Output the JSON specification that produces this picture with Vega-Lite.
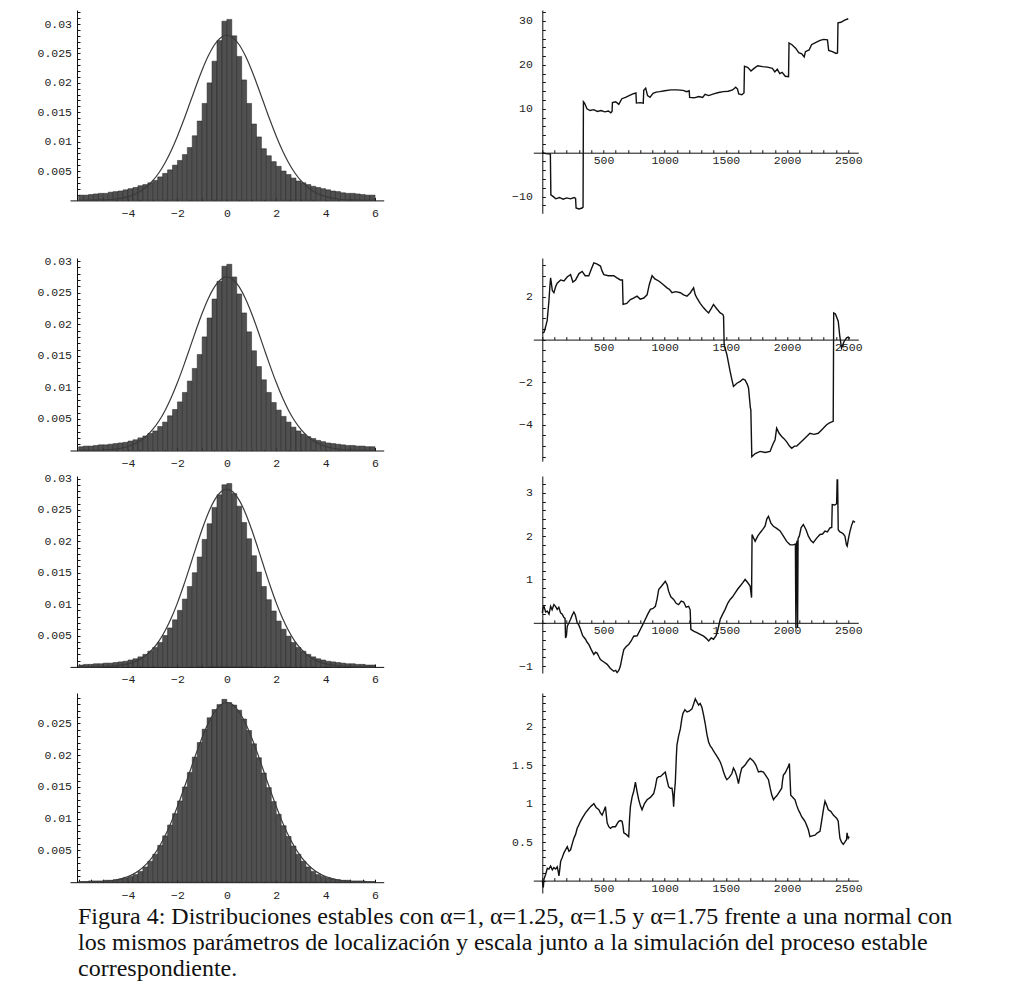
{
"$schema": "https://vega.github.io/schema/vega-lite/v6.json",
"autosize": {"type": "none"},
"padding": {"left": 70, "top": 10, "right": 940, "bottom": 980},
"background": "white",
"config": {
 "view": {"stroke": null},
 "axis": {"labelFont": "Liberation Mono", "labelFontSize": 11.5, "labelColor": "#222", "domainColor": "#111", "domainWidth": 1, "tickColor": "#111", "tickWidth": 1, "grid": false, "labelFlush": false, "labelOverlap": false, "labelBound": false, "format": "~r", "tickSize": -3}
},
"title": {"text": ["Figura 4: Distribuciones estables con α=1, α=1.25, α=1.5 y α=1.75 frente a una normal con", "los mismos parámetros de localización y escala junto a la simulación del proceso estable", "correspondiente."], "orient": "bottom", "anchor": "start", "frame": "group", "font": "Liberation Serif", "fontSize": 24, "fontWeight": "normal", "color": "#111", "lineHeight": 26, "offset": 4, "dx": 8},
"datasets": {
"hist": [
{"p":1,"lo":-6,"hi":-5.8,"h":0.0009},{"p":1,"lo":-5.8,"hi":-5.6,"h":0.0009},{"p":1,"lo":-5.6,"hi":-5.4,"h":0.001},{"p":1,"lo":-5.4,"hi":-5.2,"h":0.0011},{"p":1,"lo":-5.2,"hi":-5,"h":0.0012},{"p":1,"lo":-5,"hi":-4.8,"h":0.0012},{"p":1,"lo":-4.8,"hi":-4.6,"h":0.0014},{"p":1,"lo":-4.6,"hi":-4.4,"h":0.0015},{"p":1,"lo":-4.4,"hi":-4.2,"h":0.0016},{"p":1,"lo":-4.2,"hi":-4,"h":0.0018},{"p":1,"lo":-4,"hi":-3.8,"h":0.002},{"p":1,"lo":-3.8,"hi":-3.6,"h":0.0022},{"p":1,"lo":-3.6,"hi":-3.4,"h":0.0025},{"p":1,"lo":-3.4,"hi":-3.2,"h":0.0027},{"p":1,"lo":-3.2,"hi":-3,"h":0.003},{"p":1,"lo":-3,"hi":-2.8,"h":0.0034},{"p":1,"lo":-2.8,"hi":-2.6,"h":0.004},{"p":1,"lo":-2.6,"hi":-2.4,"h":0.0046},{"p":1,"lo":-2.4,"hi":-2.2,"h":0.0052},{"p":1,"lo":-2.2,"hi":-2,"h":0.006},{"p":1,"lo":-2,"hi":-1.8,"h":0.0068},{"p":1,"lo":-1.8,"hi":-1.6,"h":0.0078},{"p":1,"lo":-1.6,"hi":-1.4,"h":0.009},{"p":1,"lo":-1.4,"hi":-1.2,"h":0.011},{"p":1,"lo":-1.2,"hi":-1,"h":0.0135},{"p":1,"lo":-1,"hi":-0.8,"h":0.0165},{"p":1,"lo":-0.8,"hi":-0.6,"h":0.02},{"p":1,"lo":-0.6,"hi":-0.4,"h":0.0237},{"p":1,"lo":-0.4,"hi":-0.2,"h":0.0272},{"p":1,"lo":-0.2,"hi":0,"h":0.0305},
{"p":1,"lo":0,"hi":0.2,"h":0.0308},{"p":1,"lo":0.2,"hi":0.4,"h":0.028},{"p":1,"lo":0.4,"hi":0.6,"h":0.0245},{"p":1,"lo":0.6,"hi":0.8,"h":0.0205},{"p":1,"lo":0.8,"hi":1,"h":0.0165},{"p":1,"lo":1,"hi":1.2,"h":0.013},{"p":1,"lo":1.2,"hi":1.4,"h":0.0108},{"p":1,"lo":1.4,"hi":1.6,"h":0.0088},{"p":1,"lo":1.6,"hi":1.8,"h":0.0076},{"p":1,"lo":1.8,"hi":2,"h":0.0066},{"p":1,"lo":2,"hi":2.2,"h":0.0058},{"p":1,"lo":2.2,"hi":2.4,"h":0.005},{"p":1,"lo":2.4,"hi":2.6,"h":0.0044},{"p":1,"lo":2.6,"hi":2.8,"h":0.0038},{"p":1,"lo":2.8,"hi":3,"h":0.0033},{"p":1,"lo":3,"hi":3.2,"h":0.003},{"p":1,"lo":3.2,"hi":3.4,"h":0.0027},{"p":1,"lo":3.4,"hi":3.6,"h":0.0024},{"p":1,"lo":3.6,"hi":3.8,"h":0.0022},{"p":1,"lo":3.8,"hi":4,"h":0.002},{"p":1,"lo":4,"hi":4.2,"h":0.0018},{"p":1,"lo":4.2,"hi":4.4,"h":0.0016},{"p":1,"lo":4.4,"hi":4.6,"h":0.0015},{"p":1,"lo":4.6,"hi":4.8,"h":0.0013},{"p":1,"lo":4.8,"hi":5,"h":0.0012},{"p":1,"lo":5,"hi":5.2,"h":0.0012},{"p":1,"lo":5.2,"hi":5.4,"h":0.0011},{"p":1,"lo":5.4,"hi":5.6,"h":0.001},{"p":1,"lo":5.6,"hi":5.8,"h":0.0009},{"p":1,"lo":5.8,"hi":6,"h":0.0009},
{"p":2,"lo":-6,"hi":-5.8,"h":0.0006},{"p":2,"lo":-5.8,"hi":-5.6,"h":0.0007},{"p":2,"lo":-5.6,"hi":-5.4,"h":0.0007},{"p":2,"lo":-5.4,"hi":-5.2,"h":0.0008},{"p":2,"lo":-5.2,"hi":-5,"h":0.0009},{"p":2,"lo":-5,"hi":-4.8,"h":0.0009},{"p":2,"lo":-4.8,"hi":-4.6,"h":0.001},{"p":2,"lo":-4.6,"hi":-4.4,"h":0.0011},{"p":2,"lo":-4.4,"hi":-4.2,"h":0.0012},{"p":2,"lo":-4.2,"hi":-4,"h":0.0013},{"p":2,"lo":-4,"hi":-3.8,"h":0.0015},{"p":2,"lo":-3.8,"hi":-3.6,"h":0.0017},{"p":2,"lo":-3.6,"hi":-3.4,"h":0.002},{"p":2,"lo":-3.4,"hi":-3.2,"h":0.0023},{"p":2,"lo":-3.2,"hi":-3,"h":0.0027},{"p":2,"lo":-3,"hi":-2.8,"h":0.0031},{"p":2,"lo":-2.8,"hi":-2.6,"h":0.0038},{"p":2,"lo":-2.6,"hi":-2.4,"h":0.0045},{"p":2,"lo":-2.4,"hi":-2.2,"h":0.0055},{"p":2,"lo":-2.2,"hi":-2,"h":0.0065},{"p":2,"lo":-2,"hi":-1.8,"h":0.0077},{"p":2,"lo":-1.8,"hi":-1.6,"h":0.0092},{"p":2,"lo":-1.6,"hi":-1.4,"h":0.011},{"p":2,"lo":-1.4,"hi":-1.2,"h":0.013},{"p":2,"lo":-1.2,"hi":-1,"h":0.0152},{"p":2,"lo":-1,"hi":-0.8,"h":0.018},{"p":2,"lo":-0.8,"hi":-0.6,"h":0.021},{"p":2,"lo":-0.6,"hi":-0.4,"h":0.024},{"p":2,"lo":-0.4,"hi":-0.2,"h":0.0268},{"p":2,"lo":-0.2,"hi":0,"h":0.0292},
{"p":2,"lo":0,"hi":0.2,"h":0.0295},{"p":2,"lo":0.2,"hi":0.4,"h":0.0275},{"p":2,"lo":0.4,"hi":0.6,"h":0.0248},{"p":2,"lo":0.6,"hi":0.8,"h":0.0218},{"p":2,"lo":0.8,"hi":1,"h":0.0188},{"p":2,"lo":1,"hi":1.2,"h":0.0158},{"p":2,"lo":1.2,"hi":1.4,"h":0.0133},{"p":2,"lo":1.4,"hi":1.6,"h":0.0112},{"p":2,"lo":1.6,"hi":1.8,"h":0.0092},{"p":2,"lo":1.8,"hi":2,"h":0.0076},{"p":2,"lo":2,"hi":2.2,"h":0.0064},{"p":2,"lo":2.2,"hi":2.4,"h":0.0054},{"p":2,"lo":2.4,"hi":2.6,"h":0.0045},{"p":2,"lo":2.6,"hi":2.8,"h":0.0037},{"p":2,"lo":2.8,"hi":3,"h":0.0031},{"p":2,"lo":3,"hi":3.2,"h":0.0026},{"p":2,"lo":3.2,"hi":3.4,"h":0.0022},{"p":2,"lo":3.4,"hi":3.6,"h":0.0019},{"p":2,"lo":3.6,"hi":3.8,"h":0.0016},{"p":2,"lo":3.8,"hi":4,"h":0.0014},{"p":2,"lo":4,"hi":4.2,"h":0.0012},{"p":2,"lo":4.2,"hi":4.4,"h":0.0011},{"p":2,"lo":4.4,"hi":4.6,"h":0.001},{"p":2,"lo":4.6,"hi":4.8,"h":0.0009},{"p":2,"lo":4.8,"hi":5,"h":0.0008},{"p":2,"lo":5,"hi":5.2,"h":0.0008},{"p":2,"lo":5.2,"hi":5.4,"h":0.0007},{"p":2,"lo":5.4,"hi":5.6,"h":0.0007},{"p":2,"lo":5.6,"hi":5.8,"h":0.0006},{"p":2,"lo":5.8,"hi":6,"h":0.0006},
{"p":3,"lo":-6,"hi":-5.8,"h":0.0003},{"p":3,"lo":-5.8,"hi":-5.6,"h":0.0004},{"p":3,"lo":-5.6,"hi":-5.4,"h":0.0004},{"p":3,"lo":-5.4,"hi":-5.2,"h":0.0005},{"p":3,"lo":-5.2,"hi":-5,"h":0.0005},{"p":3,"lo":-5,"hi":-4.8,"h":0.0006},{"p":3,"lo":-4.8,"hi":-4.6,"h":0.0006},{"p":3,"lo":-4.6,"hi":-4.4,"h":0.0007},{"p":3,"lo":-4.4,"hi":-4.2,"h":0.0008},{"p":3,"lo":-4.2,"hi":-4,"h":0.0009},{"p":3,"lo":-4,"hi":-3.8,"h":0.0011},{"p":3,"lo":-3.8,"hi":-3.6,"h":0.0013},{"p":3,"lo":-3.6,"hi":-3.4,"h":0.0016},{"p":3,"lo":-3.4,"hi":-3.2,"h":0.002},{"p":3,"lo":-3.2,"hi":-3,"h":0.0025},{"p":3,"lo":-3,"hi":-2.8,"h":0.0031},{"p":3,"lo":-2.8,"hi":-2.6,"h":0.0039},{"p":3,"lo":-2.6,"hi":-2.4,"h":0.005},{"p":3,"lo":-2.4,"hi":-2.2,"h":0.0062},{"p":3,"lo":-2.2,"hi":-2,"h":0.0075},{"p":3,"lo":-2,"hi":-1.8,"h":0.009},{"p":3,"lo":-1.8,"hi":-1.6,"h":0.0108},{"p":3,"lo":-1.6,"hi":-1.4,"h":0.0128},{"p":3,"lo":-1.4,"hi":-1.2,"h":0.015},{"p":3,"lo":-1.2,"hi":-1,"h":0.0175},{"p":3,"lo":-1,"hi":-0.8,"h":0.0203},{"p":3,"lo":-0.8,"hi":-0.6,"h":0.0228},{"p":3,"lo":-0.6,"hi":-0.4,"h":0.0254},{"p":3,"lo":-0.4,"hi":-0.2,"h":0.0274},{"p":3,"lo":-0.2,"hi":0,"h":0.029},
{"p":3,"lo":0,"hi":0.2,"h":0.0292},{"p":3,"lo":0.2,"hi":0.4,"h":0.0276},{"p":3,"lo":0.4,"hi":0.6,"h":0.0256},{"p":3,"lo":0.6,"hi":0.8,"h":0.023},{"p":3,"lo":0.8,"hi":1,"h":0.0204},{"p":3,"lo":1,"hi":1.2,"h":0.0177},{"p":3,"lo":1.2,"hi":1.4,"h":0.0151},{"p":3,"lo":1.4,"hi":1.6,"h":0.0128},{"p":3,"lo":1.6,"hi":1.8,"h":0.0107},{"p":3,"lo":1.8,"hi":2,"h":0.0089},{"p":3,"lo":2,"hi":2.2,"h":0.0073},{"p":3,"lo":2.2,"hi":2.4,"h":0.006},{"p":3,"lo":2.4,"hi":2.6,"h":0.0049},{"p":3,"lo":2.6,"hi":2.8,"h":0.0039},{"p":3,"lo":2.8,"hi":3,"h":0.0031},{"p":3,"lo":3,"hi":3.2,"h":0.0025},{"p":3,"lo":3.2,"hi":3.4,"h":0.002},{"p":3,"lo":3.4,"hi":3.6,"h":0.0016},{"p":3,"lo":3.6,"hi":3.8,"h":0.0013},{"p":3,"lo":3.8,"hi":4,"h":0.0011},{"p":3,"lo":4,"hi":4.2,"h":0.0009},{"p":3,"lo":4.2,"hi":4.4,"h":0.0008},{"p":3,"lo":4.4,"hi":4.6,"h":0.0007},{"p":3,"lo":4.6,"hi":4.8,"h":0.0006},{"p":3,"lo":4.8,"hi":5,"h":0.0005},{"p":3,"lo":5,"hi":5.2,"h":0.0005},{"p":3,"lo":5.2,"hi":5.4,"h":0.0004},{"p":3,"lo":5.4,"hi":5.6,"h":0.0004},{"p":3,"lo":5.6,"hi":5.8,"h":0.0003},{"p":3,"lo":5.8,"hi":6,"h":0.0003},
{"p":4,"lo":-6,"hi":-5.8,"h":0.0001},{"p":4,"lo":-5.8,"hi":-5.6,"h":0.0001},{"p":4,"lo":-5.6,"hi":-5.4,"h":0.0002},{"p":4,"lo":-5.4,"hi":-5.2,"h":0.0002},{"p":4,"lo":-5.2,"hi":-5,"h":0.0002},{"p":4,"lo":-5,"hi":-4.8,"h":0.0003},{"p":4,"lo":-4.8,"hi":-4.6,"h":0.0003},{"p":4,"lo":-4.6,"hi":-4.4,"h":0.0004},{"p":4,"lo":-4.4,"hi":-4.2,"h":0.0005},{"p":4,"lo":-4.2,"hi":-4,"h":0.0007},{"p":4,"lo":-4,"hi":-3.8,"h":0.0009},{"p":4,"lo":-3.8,"hi":-3.6,"h":0.0012},{"p":4,"lo":-3.6,"hi":-3.4,"h":0.0017},{"p":4,"lo":-3.4,"hi":-3.2,"h":0.0024},{"p":4,"lo":-3.2,"hi":-3,"h":0.0033},{"p":4,"lo":-3,"hi":-2.8,"h":0.0044},{"p":4,"lo":-2.8,"hi":-2.6,"h":0.0058},{"p":4,"lo":-2.6,"hi":-2.4,"h":0.0073},{"p":4,"lo":-2.4,"hi":-2.2,"h":0.009},{"p":4,"lo":-2.2,"hi":-2,"h":0.0108},{"p":4,"lo":-2,"hi":-1.8,"h":0.0128},{"p":4,"lo":-1.8,"hi":-1.6,"h":0.015},{"p":4,"lo":-1.6,"hi":-1.4,"h":0.0173},{"p":4,"lo":-1.4,"hi":-1.2,"h":0.0197},{"p":4,"lo":-1.2,"hi":-1,"h":0.022},{"p":4,"lo":-1,"hi":-0.8,"h":0.0241},{"p":4,"lo":-0.8,"hi":-0.6,"h":0.0259},{"p":4,"lo":-0.6,"hi":-0.4,"h":0.0272},{"p":4,"lo":-0.4,"hi":-0.2,"h":0.028},{"p":4,"lo":-0.2,"hi":0,"h":0.0288},
{"p":4,"lo":0,"hi":0.2,"h":0.0283},{"p":4,"lo":0.2,"hi":0.4,"h":0.0279},{"p":4,"lo":0.4,"hi":0.6,"h":0.0271},{"p":4,"lo":0.6,"hi":0.8,"h":0.0257},{"p":4,"lo":0.8,"hi":1,"h":0.0239},{"p":4,"lo":1,"hi":1.2,"h":0.0218},{"p":4,"lo":1.2,"hi":1.4,"h":0.0196},{"p":4,"lo":1.4,"hi":1.6,"h":0.0172},{"p":4,"lo":1.6,"hi":1.8,"h":0.0149},{"p":4,"lo":1.8,"hi":2,"h":0.0127},{"p":4,"lo":2,"hi":2.2,"h":0.0107},{"p":4,"lo":2.2,"hi":2.4,"h":0.0089},{"p":4,"lo":2.4,"hi":2.6,"h":0.0072},{"p":4,"lo":2.6,"hi":2.8,"h":0.0057},{"p":4,"lo":2.8,"hi":3,"h":0.0044},{"p":4,"lo":3,"hi":3.2,"h":0.0033},{"p":4,"lo":3.2,"hi":3.4,"h":0.0024},{"p":4,"lo":3.4,"hi":3.6,"h":0.0017},{"p":4,"lo":3.6,"hi":3.8,"h":0.0012},{"p":4,"lo":3.8,"hi":4,"h":0.0009},{"p":4,"lo":4,"hi":4.2,"h":0.0007},{"p":4,"lo":4.2,"hi":4.4,"h":0.0005},{"p":4,"lo":4.4,"hi":4.6,"h":0.0004},{"p":4,"lo":4.6,"hi":4.8,"h":0.0003},{"p":4,"lo":4.8,"hi":5,"h":0.0003},{"p":4,"lo":5,"hi":5.2,"h":0.0002},{"p":4,"lo":5.2,"hi":5.4,"h":0.0002},{"p":4,"lo":5.4,"hi":5.6,"h":0.0002},{"p":4,"lo":5.6,"hi":5.8,"h":0.0001},{"p":4,"lo":5.8,"hi":6,"h":0.0001}
],
"norm": [
{"p":1,"x":-6,"y":0.00001},{"p":1,"x":-5.5,"y":0.00002},{"p":1,"x":-5,"y":0.00008},{"p":1,"x":-4.5,"y":0.00024},{"p":1,"x":-4,"y":0.00064},{"p":1,"x":-3.75,"y":0.00101},{"p":1,"x":-3.5,"y":0.00156},{"p":1,"x":-3.25,"y":0.00232},{"p":1,"x":-3,"y":0.00335},{"p":1,"x":-2.75,"y":0.00471},{"p":1,"x":-2.5,"y":0.00642},{"p":1,"x":-2.25,"y":0.0085},{"p":1,"x":-2,"y":0.01093},{"p":1,"x":-1.75,"y":0.01363},{"p":1,"x":-1.5,"y":0.01652},{"p":1,"x":-1.25,"y":0.01943},{"p":1,"x":-1,"y":0.02219},{"p":1,"x":-0.75,"y":0.0246},{"p":1,"x":-0.5,"y":0.02649},{"p":1,"x":-0.25,"y":0.02769},{"p":1,"x":0,"y":0.0281},{"p":1,"x":0.25,"y":0.02769},{"p":1,"x":0.5,"y":0.02649},{"p":1,"x":0.75,"y":0.0246},{"p":1,"x":1,"y":0.02219},{"p":1,"x":1.25,"y":0.01943},{"p":1,"x":1.5,"y":0.01652},{"p":1,"x":1.75,"y":0.01363},{"p":1,"x":2,"y":0.01093},{"p":1,"x":2.25,"y":0.0085},{"p":1,"x":2.5,"y":0.00642},{"p":1,"x":2.75,"y":0.00471},{"p":1,"x":3,"y":0.00335},{"p":1,"x":3.25,"y":0.00232},{"p":1,"x":3.5,"y":0.00156},{"p":1,"x":3.75,"y":0.00101},{"p":1,"x":4,"y":0.00064},{"p":1,"x":4.5,"y":0.00024},{"p":1,"x":5,"y":0.00008},{"p":1,"x":5.5,"y":0.00002},{"p":1,"x":6,"y":0.00001},
{"p":2,"x":-6,"y":0.00001},{"p":2,"x":-5.5,"y":0.00002},{"p":2,"x":-5,"y":0.00008},{"p":2,"x":-4.5,"y":0.00024},{"p":2,"x":-4,"y":0.00064},{"p":2,"x":-3.75,"y":0.00102},{"p":2,"x":-3.5,"y":0.00155},{"p":2,"x":-3.25,"y":0.00231},{"p":2,"x":-3,"y":0.00333},{"p":2,"x":-2.75,"y":0.00467},{"p":2,"x":-2.5,"y":0.00635},{"p":2,"x":-2.25,"y":0.00839},{"p":2,"x":-2,"y":0.01076},{"p":2,"x":-1.75,"y":0.01341},{"p":2,"x":-1.5,"y":0.01622},{"p":2,"x":-1.25,"y":0.01906},{"p":2,"x":-1,"y":0.02175},{"p":2,"x":-0.75,"y":0.0241},{"p":2,"x":-0.5,"y":0.02593},{"p":2,"x":-0.25,"y":0.0271},{"p":2,"x":0,"y":0.0275},{"p":2,"x":0.25,"y":0.0271},{"p":2,"x":0.5,"y":0.02593},{"p":2,"x":0.75,"y":0.0241},{"p":2,"x":1,"y":0.02175},{"p":2,"x":1.25,"y":0.01906},{"p":2,"x":1.5,"y":0.01622},{"p":2,"x":1.75,"y":0.01341},{"p":2,"x":2,"y":0.01076},{"p":2,"x":2.25,"y":0.00839},{"p":2,"x":2.5,"y":0.00635},{"p":2,"x":2.75,"y":0.00467},{"p":2,"x":3,"y":0.00333},{"p":2,"x":3.25,"y":0.00231},{"p":2,"x":3.5,"y":0.00155},{"p":2,"x":3.75,"y":0.00102},{"p":2,"x":4,"y":0.00064},{"p":2,"x":4.5,"y":0.00024},{"p":2,"x":5,"y":0.00008},{"p":2,"x":5.5,"y":0.00002},{"p":2,"x":6,"y":0.00001},
{"p":3,"x":-6,"y":0},{"p":3,"x":-5.5,"y":0.00001},{"p":3,"x":-5,"y":0.00005},{"p":3,"x":-4.5,"y":0.00016},{"p":3,"x":-4,"y":0.00048},{"p":3,"x":-3.75,"y":0.00078},{"p":3,"x":-3.5,"y":0.00124},{"p":3,"x":-3.25,"y":0.00191},{"p":3,"x":-3,"y":0.00285},{"p":3,"x":-2.75,"y":0.00411},{"p":3,"x":-2.5,"y":0.00575},{"p":3,"x":-2.25,"y":0.00778},{"p":3,"x":-2,"y":0.0102},{"p":3,"x":-1.75,"y":0.01296},{"p":3,"x":-1.5,"y":0.01594},{"p":3,"x":-1.25,"y":0.019},{"p":3,"x":-1,"y":0.02193},{"p":3,"x":-0.75,"y":0.02452},{"p":3,"x":-0.5,"y":0.02655},{"p":3,"x":-0.25,"y":0.02785},{"p":3,"x":0,"y":0.0283},{"p":3,"x":0.25,"y":0.02785},{"p":3,"x":0.5,"y":0.02655},{"p":3,"x":0.75,"y":0.02452},{"p":3,"x":1,"y":0.02193},{"p":3,"x":1.25,"y":0.019},{"p":3,"x":1.5,"y":0.01594},{"p":3,"x":1.75,"y":0.01296},{"p":3,"x":2,"y":0.0102},{"p":3,"x":2.25,"y":0.00778},{"p":3,"x":2.5,"y":0.00575},{"p":3,"x":2.75,"y":0.00411},{"p":3,"x":3,"y":0.00285},{"p":3,"x":3.25,"y":0.00191},{"p":3,"x":3.5,"y":0.00124},{"p":3,"x":3.75,"y":0.00078},{"p":3,"x":4,"y":0.00048},{"p":3,"x":4.5,"y":0.00016},{"p":3,"x":5,"y":0.00005},{"p":3,"x":5.5,"y":0.00001},{"p":3,"x":6,"y":0},
{"p":4,"x":-6,"y":0.00001},{"p":4,"x":-5.5,"y":0.00004},{"p":4,"x":-5,"y":0.00013},{"p":4,"x":-4.5,"y":0.00035},{"p":4,"x":-4,"y":0.00089},{"p":4,"x":-3.75,"y":0.00135},{"p":4,"x":-3.5,"y":0.002},{"p":4,"x":-3.25,"y":0.00288},{"p":4,"x":-3,"y":0.00404},{"p":4,"x":-2.75,"y":0.00551},{"p":4,"x":-2.5,"y":0.00732},{"p":4,"x":-2.25,"y":0.00946},{"p":4,"x":-2,"y":0.01191},{"p":4,"x":-1.75,"y":0.01459},{"p":4,"x":-1.5,"y":0.01739},{"p":4,"x":-1.25,"y":0.02018},{"p":4,"x":-1,"y":0.02279},{"p":4,"x":-0.75,"y":0.02506},{"p":4,"x":-0.5,"y":0.02681},{"p":4,"x":-0.25,"y":0.02792},{"p":4,"x":0,"y":0.0283},{"p":4,"x":0.25,"y":0.02792},{"p":4,"x":0.5,"y":0.02681},{"p":4,"x":0.75,"y":0.02506},{"p":4,"x":1,"y":0.02279},{"p":4,"x":1.25,"y":0.02018},{"p":4,"x":1.5,"y":0.01739},{"p":4,"x":1.75,"y":0.01459},{"p":4,"x":2,"y":0.01191},{"p":4,"x":2.25,"y":0.00946},{"p":4,"x":2.5,"y":0.00732},{"p":4,"x":2.75,"y":0.00551},{"p":4,"x":3,"y":0.00404},{"p":4,"x":3.25,"y":0.00288},{"p":4,"x":3.5,"y":0.002},{"p":4,"x":3.75,"y":0.00135},{"p":4,"x":4,"y":0.00089},{"p":4,"x":4.5,"y":0.00035},{"p":4,"x":5,"y":0.00013},{"p":4,"x":5.5,"y":0.00004},{"p":4,"x":6,"y":0.00001}
],
"walk": [
{"p":1,"t":0,"v":0},{"p":1,"t":30,"v":-0.2},{"p":1,"t":66,"v":-0.3},{"p":1,"t":70,"v":-9.6},{"p":1,"t":90,"v":-10},{"p":1,"t":110,"v":-10.5},{"p":1,"t":140,"v":-10.2},{"p":1,"t":170,"v":-10.6},{"p":1,"t":200,"v":-10.3},{"p":1,"t":230,"v":-10.5},{"p":1,"t":260,"v":-10.2},{"p":1,"t":272,"v":-10.4},{"p":1,"t":276,"v":-12.6},{"p":1,"t":300,"v":-12.8},{"p":1,"t":325,"v":-12.6},{"p":1,"t":333,"v":-12.4},{"p":1,"t":336,"v":11.6},{"p":1,"t":345,"v":11.3},{"p":1,"t":365,"v":10},{"p":1,"t":390,"v":9.6},{"p":1,"t":420,"v":9.8},{"p":1,"t":450,"v":9.4},{"p":1,"t":480,"v":9.6},{"p":1,"t":510,"v":9.3},{"p":1,"t":540,"v":9.5},{"p":1,"t":560,"v":9.1},{"p":1,"t":570,"v":9.4},{"p":1,"t":573,"v":11.4},{"p":1,"t":600,"v":11.6},{"p":1,"t":625,"v":11},{"p":1,"t":650,"v":12.3},{"p":1,"t":680,"v":12.6},{"p":1,"t":710,"v":13},{"p":1,"t":740,"v":13.4},{"p":1,"t":765,"v":13.6},{"p":1,"t":769,"v":11.3},{"p":1,"t":800,"v":11.4},{"p":1,"t":825,"v":11.3},{"p":1,"t":829,"v":14.2},{"p":1,"t":845,"v":14.7},{"p":1,"t":860,"v":13},{"p":1,"t":880,"v":12.6},{"p":1,"t":905,"v":13.5},{"p":1,"t":930,"v":13.8},{"p":1,"t":960,"v":13.9},{"p":1,"t":1000,"v":14.1},{"p":1,"t":1050,"v":14.3},{"p":1,"t":1100,"v":14.3},{"p":1,"t":1150,"v":14.2},{"p":1,"t":1180,"v":13.9},{"p":1,"t":1200,"v":14.1},{"p":1,"t":1204,"v":12.6},{"p":1,"t":1240,"v":12.5},{"p":1,"t":1280,"v":12.8},{"p":1,"t":1310,"v":12.6},{"p":1,"t":1330,"v":13.3},{"p":1,"t":1360,"v":13},{"p":1,"t":1400,"v":13.4},{"p":1,"t":1440,"v":13.7},{"p":1,"t":1480,"v":13.9},{"p":1,"t":1520,"v":14},{"p":1,"t":1555,"v":14.3},{"p":1,"t":1580,"v":14.9},{"p":1,"t":1595,"v":14.5},{"p":1,"t":1605,"v":13.4},{"p":1,"t":1630,"v":13.2},{"p":1,"t":1648,"v":13.6},{"p":1,"t":1652,"v":19.7},{"p":1,"t":1680,"v":19.4},{"p":1,"t":1705,"v":18.6},{"p":1,"t":1730,"v":19.2},{"p":1,"t":1760,"v":19.8},{"p":1,"t":1800,"v":19.6},{"p":1,"t":1840,"v":19.5},{"p":1,"t":1880,"v":19.2},{"p":1,"t":1900,"v":18.4},{"p":1,"t":1920,"v":19},{"p":1,"t":1940,"v":18},{"p":1,"t":1960,"v":18.3},{"p":1,"t":1985,"v":17.4},{"p":1,"t":2012,"v":17.3},{"p":1,"t":2016,"v":25},{"p":1,"t":2040,"v":24.6},{"p":1,"t":2070,"v":23.8},{"p":1,"t":2095,"v":22.8},{"p":1,"t":2120,"v":22.5},{"p":1,"t":2140,"v":21.8},{"p":1,"t":2150,"v":23},{"p":1,"t":2180,"v":23.4},{"p":1,"t":2200,"v":24.6},{"p":1,"t":2240,"v":25.2},{"p":1,"t":2270,"v":25.6},{"p":1,"t":2300,"v":25.8},{"p":1,"t":2330,"v":25.7},{"p":1,"t":2340,"v":23.3},{"p":1,"t":2370,"v":23},{"p":1,"t":2400,"v":22.6},{"p":1,"t":2412,"v":22.7},{"p":1,"t":2416,"v":29.6},{"p":1,"t":2440,"v":29.7},{"p":1,"t":2470,"v":30.2},{"p":1,"t":2500,"v":30.5},
{"p":2,"t":0,"v":0.3},{"p":2,"t":15,"v":0.35},{"p":2,"t":27,"v":0.6},{"p":2,"t":40,"v":0.9},{"p":2,"t":54,"v":1.8},{"p":2,"t":62,"v":2.5},{"p":2,"t":68,"v":2.9},{"p":2,"t":75,"v":2.6},{"p":2,"t":82,"v":2.3},{"p":2,"t":95,"v":2.2},{"p":2,"t":110,"v":2.5},{"p":2,"t":122,"v":2.65},{"p":2,"t":150,"v":2.8},{"p":2,"t":177,"v":2.75},{"p":2,"t":205,"v":2.95},{"p":2,"t":231,"v":3.05},{"p":2,"t":250,"v":2.7},{"p":2,"t":272,"v":2.8},{"p":2,"t":300,"v":3.1},{"p":2,"t":326,"v":3.2},{"p":2,"t":350,"v":3},{"p":2,"t":380,"v":3},{"p":2,"t":400,"v":3.3},{"p":2,"t":421,"v":3.6},{"p":2,"t":445,"v":3.55},{"p":2,"t":475,"v":3.45},{"p":2,"t":490,"v":3.2},{"p":2,"t":503,"v":3.05},{"p":2,"t":540,"v":3},{"p":2,"t":584,"v":3},{"p":2,"t":610,"v":2.9},{"p":2,"t":638,"v":2.8},{"p":2,"t":655,"v":2.8},{"p":2,"t":660,"v":1.65},{"p":2,"t":690,"v":1.7},{"p":2,"t":720,"v":1.88},{"p":2,"t":745,"v":1.95},{"p":2,"t":774,"v":2.04},{"p":2,"t":800,"v":1.9},{"p":2,"t":829,"v":1.95},{"p":2,"t":856,"v":2.1},{"p":2,"t":875,"v":2.6},{"p":2,"t":897,"v":3},{"p":2,"t":920,"v":2.85},{"p":2,"t":951,"v":2.75},{"p":2,"t":985,"v":2.6},{"p":2,"t":1019,"v":2.43},{"p":2,"t":1040,"v":2.35},{"p":2,"t":1060,"v":2.2},{"p":2,"t":1090,"v":2.25},{"p":2,"t":1128,"v":2.2},{"p":2,"t":1155,"v":2.1},{"p":2,"t":1182,"v":2.04},{"p":2,"t":1210,"v":2.2},{"p":2,"t":1236,"v":2.43},{"p":2,"t":1250,"v":2.1},{"p":2,"t":1263,"v":1.96},{"p":2,"t":1290,"v":1.7},{"p":2,"t":1318,"v":1.49},{"p":2,"t":1340,"v":1.35},{"p":2,"t":1359,"v":1.25},{"p":2,"t":1380,"v":1.45},{"p":2,"t":1399,"v":1.65},{"p":2,"t":1425,"v":1.45},{"p":2,"t":1454,"v":1.25},{"p":2,"t":1475,"v":1.18},{"p":2,"t":1481,"v":1.1},{"p":2,"t":1486,"v":-0.24},{"p":2,"t":1508,"v":-0.7},{"p":2,"t":1535,"v":-1.5},{"p":2,"t":1550,"v":-1.9},{"p":2,"t":1562,"v":-2.2},{"p":2,"t":1590,"v":-2.05},{"p":2,"t":1617,"v":-1.96},{"p":2,"t":1640,"v":-1.85},{"p":2,"t":1657,"v":-1.9},{"p":2,"t":1675,"v":-2.1},{"p":2,"t":1685,"v":-2.27},{"p":2,"t":1700,"v":-3.2},{"p":2,"t":1704,"v":-3.3},{"p":2,"t":1712,"v":-5.5},{"p":2,"t":1740,"v":-5.35},{"p":2,"t":1780,"v":-5.25},{"p":2,"t":1820,"v":-5.3},{"p":2,"t":1861,"v":-5.25},{"p":2,"t":1885,"v":-4.9},{"p":2,"t":1902,"v":-4.7},{"p":2,"t":1915,"v":-4.16},{"p":2,"t":1935,"v":-4.4},{"p":2,"t":1956,"v":-4.55},{"p":2,"t":1975,"v":-4.65},{"p":2,"t":1997,"v":-4.8},{"p":2,"t":2020,"v":-5},{"p":2,"t":2038,"v":-5.1},{"p":2,"t":2060,"v":-5},{"p":2,"t":2079,"v":-5},{"p":2,"t":2105,"v":-4.85},{"p":2,"t":2133,"v":-4.7},{"p":2,"t":2160,"v":-4.55},{"p":2,"t":2187,"v":-4.4},{"p":2,"t":2220,"v":-4.45},{"p":2,"t":2255,"v":-4.4},{"p":2,"t":2290,"v":-4.2},{"p":2,"t":2323,"v":-4},{"p":2,"t":2350,"v":-3.9},{"p":2,"t":2377,"v":-3.84},{"p":2,"t":2381,"v":1.25},{"p":2,"t":2395,"v":1.2},{"p":2,"t":2418,"v":0.86},{"p":2,"t":2430,"v":0.2},{"p":2,"t":2445,"v":-0.4},{"p":2,"t":2465,"v":-0.1},{"p":2,"t":2486,"v":0.08},{"p":2,"t":2500,"v":0.12},{"p":2,"t":2513,"v":0.05},
{"p":3,"t":0,"v":0.23},{"p":3,"t":7,"v":0.35},{"p":3,"t":14,"v":0.38},{"p":3,"t":27,"v":0.25},{"p":3,"t":41,"v":0.27},{"p":3,"t":55,"v":0.2},{"p":3,"t":68,"v":0.38},{"p":3,"t":80,"v":0.3},{"p":3,"t":95,"v":0.42},{"p":3,"t":108,"v":0.38},{"p":3,"t":122,"v":0.31},{"p":3,"t":135,"v":0.36},{"p":3,"t":149,"v":0.23},{"p":3,"t":163,"v":0.2},{"p":3,"t":177,"v":0.12},{"p":3,"t":186,"v":0.1},{"p":3,"t":190,"v":-0.35},{"p":3,"t":197,"v":-0.3},{"p":3,"t":204,"v":-0.08},{"p":3,"t":218,"v":0},{"p":3,"t":231,"v":0.08},{"p":3,"t":245,"v":0.18},{"p":3,"t":258,"v":0.25},{"p":3,"t":270,"v":0.18},{"p":3,"t":285,"v":0},{"p":3,"t":298,"v":-0.05},{"p":3,"t":312,"v":-0.15},{"p":3,"t":330,"v":-0.3},{"p":3,"t":353,"v":-0.38},{"p":3,"t":366,"v":-0.45},{"p":3,"t":380,"v":-0.5},{"p":3,"t":400,"v":-0.62},{"p":3,"t":421,"v":-0.73},{"p":3,"t":435,"v":-0.68},{"p":3,"t":448,"v":-0.7},{"p":3,"t":462,"v":-0.78},{"p":3,"t":475,"v":-0.85},{"p":3,"t":500,"v":-0.9},{"p":3,"t":530,"v":-0.96},{"p":3,"t":555,"v":-1.05},{"p":3,"t":584,"v":-1.12},{"p":3,"t":600,"v":-1.1},{"p":3,"t":611,"v":-1.15},{"p":3,"t":625,"v":-1.1},{"p":3,"t":638,"v":-1},{"p":3,"t":652,"v":-0.8},{"p":3,"t":666,"v":-0.62},{"p":3,"t":686,"v":-0.55},{"p":3,"t":706,"v":-0.5},{"p":3,"t":726,"v":-0.42},{"p":3,"t":747,"v":-0.31},{"p":3,"t":775,"v":-0.3},{"p":3,"t":802,"v":-0.15},{"p":3,"t":820,"v":-0.05},{"p":3,"t":842,"v":0.08},{"p":3,"t":862,"v":0.2},{"p":3,"t":883,"v":0.31},{"p":3,"t":905,"v":0.33},{"p":3,"t":924,"v":0.38},{"p":3,"t":938,"v":0.55},{"p":3,"t":951,"v":0.77},{"p":3,"t":975,"v":0.85},{"p":3,"t":1005,"v":0.96},{"p":3,"t":1020,"v":0.88},{"p":3,"t":1032,"v":0.73},{"p":3,"t":1050,"v":0.6},{"p":3,"t":1073,"v":0.54},{"p":3,"t":1094,"v":0.45},{"p":3,"t":1114,"v":0.42},{"p":3,"t":1135,"v":0.5},{"p":3,"t":1155,"v":0.48},{"p":3,"t":1175,"v":0.36},{"p":3,"t":1196,"v":0.38},{"p":3,"t":1208,"v":0.3},{"p":3,"t":1214,"v":-0.15},{"p":3,"t":1240,"v":-0.2},{"p":3,"t":1263,"v":-0.23},{"p":3,"t":1290,"v":-0.27},{"p":3,"t":1318,"v":-0.31},{"p":3,"t":1340,"v":-0.36},{"p":3,"t":1359,"v":-0.42},{"p":3,"t":1380,"v":-0.35},{"p":3,"t":1399,"v":-0.38},{"p":3,"t":1420,"v":-0.3},{"p":3,"t":1432,"v":-0.19},{"p":3,"t":1454,"v":0.08},{"p":3,"t":1474,"v":0.2},{"p":3,"t":1494,"v":0.31},{"p":3,"t":1515,"v":0.45},{"p":3,"t":1535,"v":0.54},{"p":3,"t":1555,"v":0.6},{"p":3,"t":1576,"v":0.69},{"p":3,"t":1597,"v":0.78},{"p":3,"t":1617,"v":0.85},{"p":3,"t":1637,"v":0.92},{"p":3,"t":1657,"v":1},{"p":3,"t":1678,"v":0.93},{"p":3,"t":1698,"v":0.85},{"p":3,"t":1710,"v":0.58},{"p":3,"t":1714,"v":2.04},{"p":3,"t":1739,"v":1.88},{"p":3,"t":1760,"v":2},{"p":3,"t":1780,"v":2.08},{"p":3,"t":1800,"v":2.15},{"p":3,"t":1820,"v":2.23},{"p":3,"t":1835,"v":2.4},{"p":3,"t":1848,"v":2.46},{"p":3,"t":1868,"v":2.3},{"p":3,"t":1888,"v":2.23},{"p":3,"t":1915,"v":2.18},{"p":3,"t":1943,"v":2.12},{"p":3,"t":1970,"v":2},{"p":3,"t":1997,"v":1.88},{"p":3,"t":2025,"v":1.8},{"p":3,"t":2051,"v":1.8},{"p":3,"t":2068,"v":1.82},{"p":3,"t":2072,"v":-0.12},{"p":3,"t":2076,"v":1.8},{"p":3,"t":2082,"v":1.9},{"p":3,"t":2086,"v":-0.12},{"p":3,"t":2090,"v":1.95},{"p":3,"t":2100,"v":2},{"p":3,"t":2115,"v":2.2},{"p":3,"t":2133,"v":2.27},{"p":3,"t":2155,"v":2.15},{"p":3,"t":2174,"v":2},{"p":3,"t":2195,"v":1.9},{"p":3,"t":2214,"v":1.85},{"p":3,"t":2240,"v":1.95},{"p":3,"t":2269,"v":2.04},{"p":3,"t":2290,"v":2.05},{"p":3,"t":2310,"v":2.12},{"p":3,"t":2330,"v":2.1},{"p":3,"t":2350,"v":2.19},{"p":3,"t":2365,"v":2.2},{"p":3,"t":2369,"v":2.73},{"p":3,"t":2390,"v":2.72},{"p":3,"t":2405,"v":2.75},{"p":3,"t":2409,"v":3.3},{"p":3,"t":2413,"v":3.3},{"p":3,"t":2418,"v":2.15},{"p":3,"t":2432,"v":2.1},{"p":3,"t":2445,"v":2.08},{"p":3,"t":2460,"v":2.05},{"p":3,"t":2473,"v":2},{"p":3,"t":2485,"v":1.8},{"p":3,"t":2491,"v":1.77},{"p":3,"t":2502,"v":1.95},{"p":3,"t":2513,"v":2.1},{"p":3,"t":2527,"v":2.25},{"p":3,"t":2540,"v":2.35},{"p":3,"t":2555,"v":2.32},
{"p":4,"t":0,"v":0},{"p":4,"t":8,"v":-0.09},{"p":4,"t":14,"v":0.02},{"p":4,"t":27,"v":0.08},{"p":4,"t":41,"v":0.16},{"p":4,"t":54,"v":0.15},{"p":4,"t":68,"v":0.19},{"p":4,"t":82,"v":0.14},{"p":4,"t":95,"v":0.17},{"p":4,"t":109,"v":0.15},{"p":4,"t":122,"v":0.18},{"p":4,"t":130,"v":0.12},{"p":4,"t":136,"v":0.06},{"p":4,"t":143,"v":0.15},{"p":4,"t":150,"v":0.25},{"p":4,"t":163,"v":0.3},{"p":4,"t":177,"v":0.36},{"p":4,"t":190,"v":0.4},{"p":4,"t":204,"v":0.44},{"p":4,"t":218,"v":0.38},{"p":4,"t":231,"v":0.4},{"p":4,"t":245,"v":0.48},{"p":4,"t":258,"v":0.55},{"p":4,"t":272,"v":0.6},{"p":4,"t":285,"v":0.68},{"p":4,"t":298,"v":0.72},{"p":4,"t":312,"v":0.77},{"p":4,"t":330,"v":0.82},{"p":4,"t":353,"v":0.88},{"p":4,"t":373,"v":0.92},{"p":4,"t":394,"v":0.96},{"p":4,"t":408,"v":0.98},{"p":4,"t":421,"v":1},{"p":4,"t":440,"v":0.95},{"p":4,"t":462,"v":0.92},{"p":4,"t":475,"v":0.88},{"p":4,"t":489,"v":0.85},{"p":4,"t":502,"v":0.9},{"p":4,"t":516,"v":0.96},{"p":4,"t":523,"v":0.85},{"p":4,"t":530,"v":0.75},{"p":4,"t":543,"v":0.7},{"p":4,"t":557,"v":0.68},{"p":4,"t":575,"v":0.7},{"p":4,"t":598,"v":0.7},{"p":4,"t":612,"v":0.74},{"p":4,"t":625,"v":0.77},{"p":4,"t":638,"v":0.78},{"p":4,"t":652,"v":0.77},{"p":4,"t":660,"v":0.7},{"p":4,"t":666,"v":0.62},{"p":4,"t":686,"v":0.6},{"p":4,"t":706,"v":0.57},{"p":4,"t":713,"v":0.8},{"p":4,"t":720,"v":0.96},{"p":4,"t":733,"v":1.08},{"p":4,"t":747,"v":1.16},{"p":4,"t":761,"v":1.28},{"p":4,"t":775,"v":1.15},{"p":4,"t":788,"v":1.05},{"p":4,"t":800,"v":0.98},{"p":4,"t":815,"v":0.92},{"p":4,"t":835,"v":1},{"p":4,"t":856,"v":1.05},{"p":4,"t":883,"v":1.08},{"p":4,"t":910,"v":1.13},{"p":4,"t":924,"v":1.22},{"p":4,"t":937,"v":1.33},{"p":4,"t":951,"v":1.35},{"p":4,"t":965,"v":1.35},{"p":4,"t":985,"v":1.38},{"p":4,"t":1005,"v":1.41},{"p":4,"t":1020,"v":1.3},{"p":4,"t":1032,"v":1.22},{"p":4,"t":1046,"v":1.2},{"p":4,"t":1060,"v":1.2},{"p":4,"t":1068,"v":1.1},{"p":4,"t":1073,"v":0.96},{"p":4,"t":1080,"v":1.15},{"p":4,"t":1087,"v":1.28},{"p":4,"t":1095,"v":1.6},{"p":4,"t":1100,"v":1.76},{"p":4,"t":1114,"v":1.88},{"p":4,"t":1128,"v":1.97},{"p":4,"t":1140,"v":2.1},{"p":4,"t":1149,"v":2.17},{"p":4,"t":1165,"v":2.22},{"p":4,"t":1182,"v":2.19},{"p":4,"t":1200,"v":2.2},{"p":4,"t":1223,"v":2.23},{"p":4,"t":1238,"v":2.3},{"p":4,"t":1250,"v":2.36},{"p":4,"t":1263,"v":2.32},{"p":4,"t":1277,"v":2.28},{"p":4,"t":1290,"v":2.3},{"p":4,"t":1304,"v":2.25},{"p":4,"t":1318,"v":2.15},{"p":4,"t":1331,"v":2.04},{"p":4,"t":1345,"v":1.9},{"p":4,"t":1359,"v":1.8},{"p":4,"t":1372,"v":1.75},{"p":4,"t":1386,"v":1.72},{"p":4,"t":1400,"v":1.68},{"p":4,"t":1413,"v":1.65},{"p":4,"t":1433,"v":1.6},{"p":4,"t":1454,"v":1.54},{"p":4,"t":1468,"v":1.48},{"p":4,"t":1481,"v":1.41},{"p":4,"t":1495,"v":1.35},{"p":4,"t":1508,"v":1.31},{"p":4,"t":1528,"v":1.34},{"p":4,"t":1549,"v":1.39},{"p":4,"t":1562,"v":1.46},{"p":4,"t":1576,"v":1.42},{"p":4,"t":1590,"v":1.35},{"p":4,"t":1603,"v":1.26},{"p":4,"t":1617,"v":1.38},{"p":4,"t":1630,"v":1.46},{"p":4,"t":1644,"v":1.48},{"p":4,"t":1657,"v":1.5},{"p":4,"t":1678,"v":1.55},{"p":4,"t":1698,"v":1.59},{"p":4,"t":1712,"v":1.57},{"p":4,"t":1725,"v":1.55},{"p":4,"t":1745,"v":1.5},{"p":4,"t":1766,"v":1.41},{"p":4,"t":1787,"v":1.42},{"p":4,"t":1807,"v":1.41},{"p":4,"t":1828,"v":1.36},{"p":4,"t":1848,"v":1.31},{"p":4,"t":1862,"v":1.2},{"p":4,"t":1875,"v":1.11},{"p":4,"t":1889,"v":1.05},{"p":4,"t":1902,"v":1.08},{"p":4,"t":1916,"v":1.1},{"p":4,"t":1936,"v":1.15},{"p":4,"t":1956,"v":1.2},{"p":4,"t":1963,"v":1.3},{"p":4,"t":1970,"v":1.37},{"p":4,"t":1985,"v":1.4},{"p":4,"t":1997,"v":1.44},{"p":4,"t":2010,"v":1.48},{"p":4,"t":2019,"v":1.52},{"p":4,"t":2025,"v":1.3},{"p":4,"t":2030,"v":1.11},{"p":4,"t":2048,"v":1.08},{"p":4,"t":2065,"v":1.05},{"p":4,"t":2078,"v":0.98},{"p":4,"t":2092,"v":0.92},{"p":4,"t":2105,"v":0.88},{"p":4,"t":2119,"v":0.83},{"p":4,"t":2133,"v":0.8},{"p":4,"t":2146,"v":0.77},{"p":4,"t":2160,"v":0.72},{"p":4,"t":2174,"v":0.66},{"p":4,"t":2187,"v":0.57},{"p":4,"t":2205,"v":0.58},{"p":4,"t":2228,"v":0.59},{"p":4,"t":2248,"v":0.62},{"p":4,"t":2269,"v":0.64},{"p":4,"t":2280,"v":0.75},{"p":4,"t":2290,"v":0.85},{"p":4,"t":2300,"v":0.95},{"p":4,"t":2310,"v":1.03},{"p":4,"t":2323,"v":0.98},{"p":4,"t":2337,"v":0.92},{"p":4,"t":2357,"v":0.9},{"p":4,"t":2378,"v":0.85},{"p":4,"t":2392,"v":0.83},{"p":4,"t":2405,"v":0.81},{"p":4,"t":2418,"v":0.77},{"p":4,"t":2425,"v":0.65},{"p":4,"t":2432,"v":0.55},{"p":4,"t":2445,"v":0.5},{"p":4,"t":2459,"v":0.47},{"p":4,"t":2472,"v":0.5},{"p":4,"t":2480,"v":0.52},{"p":4,"t":2486,"v":0.53},{"p":4,"t":2490,"v":0.62},{"p":4,"t":2495,"v":0.58},{"p":4,"t":2500,"v":0.55},{"p":4,"t":2508,"v":0.57}
]
},
"columns": 2,
"spacing": {"row": 0, "column": 149.3},
"bounds": "flush",
"concat": [
 {"width": 313.7, "height": 190.4, "layer": [
  {"data": {"name": "hist"}, "transform": [{"filter": "datum.p == 1"}], "mark": {"type": "bar", "fill": "#505050", "stroke": "#222", "strokeWidth": 0.5},
   "encoding": {"x": {"field": "lo", "type": "quantitative", "title": null, "scale": {"domain": [-6.35, 6.35], "nice": false, "zero": false}, "axis": {"labelOverlap": false, "values": [-6,-5.5,-5,-4.5,-4,-3.5,-3,-2.5,-2,-1.5,-1,-0.5,0,0.5,1,1.5,2,2.5,3,3.5,4,4.5,5,5.5,6], "labelExpr": "datum.value % 2 === 0 && datum.value > -5 ? datum.label : ''", "labelPadding": 10}}, "x2": {"field": "hi"},
    "y": {"field": "h", "type": "quantitative", "title": null, "scale": {"domain": [0, 0.0324], "nice": false}, "axis": {"labelOverlap": false, "offset": -7, "values": [0.001,0.002,0.003,0.004,0.005,0.006,0.007,0.008,0.009,0.01,0.011,0.012,0.013,0.014,0.015,0.016,0.017,0.018,0.019,0.02,0.021,0.022,0.023,0.024,0.025,0.026,0.027,0.028,0.029,0.03,0.031,0.032], "labelExpr": "round(datum.value*1000) % 5 === 0 ? datum.label : ''", "labelPadding": 8.5}}, "y2": {"datum": 0}}},
  {"data": {"name": "norm"}, "transform": [{"filter": "datum.p == 1"}], "mark": {"type": "line", "color": "#3a3a3a", "strokeWidth": 1.2, "interpolate": "monotone"},
   "encoding": {"x": {"field": "x", "type": "quantitative", "title": null, "axis": {"labelOverlap": false, "values": [-6,-5.5,-5,-4.5,-4,-3.5,-3,-2.5,-2,-1.5,-1,-0.5,0,0.5,1,1.5,2,2.5,3,3.5,4,4.5,5,5.5,6], "labelExpr": "datum.value % 2 === 0 && datum.value > -5 ? datum.label : ''", "labelPadding": 10}}, "y": {"field": "y", "type": "quantitative", "title": null, "axis": {"labelOverlap": false, "offset": -7, "values": [0.001,0.002,0.003,0.004,0.005,0.006,0.007,0.008,0.009,0.01,0.011,0.012,0.013,0.014,0.015,0.016,0.017,0.018,0.019,0.02,0.021,0.022,0.023,0.024,0.025,0.026,0.027,0.028,0.029,0.03,0.031,0.032], "labelExpr": "round(datum.value*1000) % 5 === 0 ? datum.label : ''", "labelPadding": 8.5}}}}
 ]},
 {"width": 325, "height": 203.3, "data": {"name": "walk"}, "transform": [{"filter": "datum.p == 1"}], "mark": {"type": "line", "color": "#111", "strokeWidth": 1.4},
  "encoding": {"x": {"field": "t", "type": "quantitative", "title": null, "scale": {"domain": [-73.5, 2582], "nice": false, "zero": false}, "axis": {"labelOverlap": false, "offset": -60.6, "values": [0,100,200,300,400,500,600,700,800,900,1000,1100,1200,1300,1400,1500,1600,1700,1800,1900,2000,2100,2200,2300,2400,2500], "labelExpr": "datum.value % 500 === 0 && datum.value > 0 ? datum.label : ''", "labelPadding": 5}},
   "y": {"field": "v", "type": "quantitative", "title": null, "scale": {"domain": [-13.8, 32.5], "nice": false, "zero": false}, "axis": {"labelOverlap": false, "offset": -9, "values": [-12,-10,-8,-6,-4,-2,0,2,4,6,8,10,12,14,16,18,20,22,24,26,28,30,32], "labelExpr": "datum.value % 10 === 0 && datum.value !== 0 ? datum.label : ''", "labelPadding": 13}}}},
 {"width": 10, "height": 43.7, "data": {"values": []}, "mark": {"type": "point", "opacity": 0}, "encoding": {}},
 {"width": 10, "height": 43.7, "data": {"values": []}, "mark": {"type": "point", "opacity": 0}, "encoding": {}},
 {"width": 313.7, "height": 192.5, "layer": [
  {"data": {"name": "hist"}, "transform": [{"filter": "datum.p == 2"}], "mark": {"type": "bar", "fill": "#505050", "stroke": "#222", "strokeWidth": 0.5},
   "encoding": {"x": {"field": "lo", "type": "quantitative", "title": null, "scale": {"domain": [-6.35, 6.35], "nice": false, "zero": false}, "axis": {"labelOverlap": false, "values": [-6,-5.5,-5,-4.5,-4,-3.5,-3,-2.5,-2,-1.5,-1,-0.5,0,0.5,1,1.5,2,2.5,3,3.5,4,4.5,5,5.5,6], "labelExpr": "datum.value % 2 === 0 && datum.value > -5 ? datum.label : ''", "labelPadding": 10}}, "x2": {"field": "hi"},
    "y": {"field": "h", "type": "quantitative", "title": null, "scale": {"domain": [0, 0.0305], "nice": false}, "axis": {"labelOverlap": false, "offset": -7, "values": [0.001,0.002,0.003,0.004,0.005,0.006,0.007,0.008,0.009,0.01,0.011,0.012,0.013,0.014,0.015,0.016,0.017,0.018,0.019,0.02,0.021,0.022,0.023,0.024,0.025,0.026,0.027,0.028,0.029,0.03], "labelExpr": "round(datum.value*1000) % 5 === 0 ? datum.label : ''", "labelPadding": 8.5}}, "y2": {"datum": 0}}},
  {"data": {"name": "norm"}, "transform": [{"filter": "datum.p == 2"}], "mark": {"type": "line", "color": "#3a3a3a", "strokeWidth": 1.2, "interpolate": "monotone"},
   "encoding": {"x": {"field": "x", "type": "quantitative", "title": null, "axis": {"labelOverlap": false, "values": [-6,-5.5,-5,-4.5,-4,-3.5,-3,-2.5,-2,-1.5,-1,-0.5,0,0.5,1,1.5,2,2.5,3,3.5,4,4.5,5,5.5,6], "labelExpr": "datum.value % 2 === 0 && datum.value > -5 ? datum.label : ''", "labelPadding": 10}}, "y": {"field": "y", "type": "quantitative", "title": null, "axis": {"labelOverlap": false, "offset": -7, "values": [0.001,0.002,0.003,0.004,0.005,0.006,0.007,0.008,0.009,0.01,0.011,0.012,0.013,0.014,0.015,0.016,0.017,0.018,0.019,0.02,0.021,0.022,0.023,0.024,0.025,0.026,0.027,0.028,0.029,0.03], "labelExpr": "round(datum.value*1000) % 5 === 0 ? datum.label : ''", "labelPadding": 8.5}}}}
 ]},
 {"width": 325, "height": 203.2, "data": {"name": "walk"}, "transform": [{"filter": "datum.p == 2"}], "mark": {"type": "line", "color": "#111", "strokeWidth": 1.4},
  "encoding": {"x": {"field": "t", "type": "quantitative", "title": null, "scale": {"domain": [-73.5, 2582], "nice": false, "zero": false}, "axis": {"labelOverlap": false, "offset": -121.6, "values": [0,100,200,300,400,500,600,700,800,900,1000,1100,1200,1300,1400,1500,1600,1700,1800,1900,2000,2100,2200,2300,2400,2500], "labelExpr": "datum.value % 500 === 0 && datum.value > 0 ? datum.label : ''", "labelPadding": 5}},
   "y": {"field": "v", "type": "quantitative", "title": null, "scale": {"domain": [-5.71, 3.83], "nice": false, "zero": false}, "axis": {"labelOverlap": false, "offset": -9, "values": [-5.5,-5,-4.5,-4,-3.5,-3,-2.5,-2,-1.5,-1,-0.5,0,0.5,1,1.5,2,2.5,3,3.5], "labelExpr": "datum.value % 2 === 0 && datum.value !== 0 ? datum.label : ''", "labelPadding": 13}}}},
 {"width": 10, "height": 13.6, "data": {"values": []}, "mark": {"type": "point", "opacity": 0}, "encoding": {}},
 {"width": 10, "height": 13.6, "data": {"values": []}, "mark": {"type": "point", "opacity": 0}, "encoding": {}},
 {"width": 313.7, "height": 190.9, "layer": [
  {"data": {"name": "hist"}, "transform": [{"filter": "datum.p == 3"}], "mark": {"type": "bar", "fill": "#505050", "stroke": "#222", "strokeWidth": 0.5},
   "encoding": {"x": {"field": "lo", "type": "quantitative", "title": null, "scale": {"domain": [-6.35, 6.35], "nice": false, "zero": false}, "axis": {"labelOverlap": false, "values": [-6,-5.5,-5,-4.5,-4,-3.5,-3,-2.5,-2,-1.5,-1,-0.5,0,0.5,1,1.5,2,2.5,3,3.5,4,4.5,5,5.5,6], "labelExpr": "datum.value % 2 === 0 && datum.value > -5 ? datum.label : ''", "labelPadding": 10}}, "x2": {"field": "hi"},
    "y": {"field": "h", "type": "quantitative", "title": null, "scale": {"domain": [0, 0.0304], "nice": false}, "axis": {"labelOverlap": false, "offset": -7, "values": [0.001,0.002,0.003,0.004,0.005,0.006,0.007,0.008,0.009,0.01,0.011,0.012,0.013,0.014,0.015,0.016,0.017,0.018,0.019,0.02,0.021,0.022,0.023,0.024,0.025,0.026,0.027,0.028,0.029,0.03], "labelExpr": "round(datum.value*1000) % 5 === 0 ? datum.label : ''", "labelPadding": 8.5}}, "y2": {"datum": 0}}},
  {"data": {"name": "norm"}, "transform": [{"filter": "datum.p == 3"}], "mark": {"type": "line", "color": "#3a3a3a", "strokeWidth": 1.2, "interpolate": "monotone"},
   "encoding": {"x": {"field": "x", "type": "quantitative", "title": null, "axis": {"labelOverlap": false, "values": [-6,-5.5,-5,-4.5,-4,-3.5,-3,-2.5,-2,-1.5,-1,-0.5,0,0.5,1,1.5,2,2.5,3,3.5,4,4.5,5,5.5,6], "labelExpr": "datum.value % 2 === 0 && datum.value > -5 ? datum.label : ''", "labelPadding": 10}}, "y": {"field": "y", "type": "quantitative", "title": null, "axis": {"labelOverlap": false, "offset": -7, "values": [0.001,0.002,0.003,0.004,0.005,0.006,0.007,0.008,0.009,0.01,0.011,0.012,0.013,0.014,0.015,0.016,0.017,0.018,0.019,0.02,0.021,0.022,0.023,0.024,0.025,0.026,0.027,0.028,0.029,0.03], "labelExpr": "round(datum.value*1000) % 5 === 0 ? datum.label : ''", "labelPadding": 8.5}}}}
 ]},
 {"width": 325, "height": 197, "data": {"name": "walk"}, "transform": [{"filter": "datum.p == 3"}], "mark": {"type": "line", "color": "#111", "strokeWidth": 1.4},
  "encoding": {"x": {"field": "t", "type": "quantitative", "title": null, "scale": {"domain": [-73.5, 2582], "nice": false, "zero": false}, "axis": {"labelOverlap": false, "offset": -50.2, "values": [0,100,200,300,400,500,600,700,800,900,1000,1100,1200,1300,1400,1500,1600,1700,1800,1900,2000,2100,2200,2300,2400,2500], "labelExpr": "datum.value % 500 === 0 && datum.value > 0 ? datum.label : ''", "labelPadding": 5}},
   "y": {"field": "v", "type": "quantitative", "title": null, "scale": {"domain": [-1.16, 3.39], "nice": false, "zero": false}, "axis": {"labelOverlap": false, "offset": -9, "values": [-1,-0.8,-0.6,-0.4,-0.2,0,0.2,0.4,0.6,0.8,1,1.2,1.4,1.6,1.8,2,2.2,2.4,2.6,2.8,3,3.2], "labelExpr": "abs(datum.value - round(datum.value)) < 0.001 && abs(datum.value) > 0.01 ? datum.label : ''", "labelPadding": 13}}}},
 {"width": 10, "height": 20, "data": {"values": []}, "mark": {"type": "point", "opacity": 0}, "encoding": {}},
 {"width": 10, "height": 20, "data": {"values": []}, "mark": {"type": "point", "opacity": 0}, "encoding": {}},
 {"width": 313.7, "height": 189.2, "layer": [
  {"data": {"name": "hist"}, "transform": [{"filter": "datum.p == 4"}], "mark": {"type": "bar", "fill": "#505050", "stroke": "#222", "strokeWidth": 0.5},
   "encoding": {"x": {"field": "lo", "type": "quantitative", "title": null, "scale": {"domain": [-6.35, 6.35], "nice": false, "zero": false}, "axis": {"labelOverlap": false, "values": [-6,-5.5,-5,-4.5,-4,-3.5,-3,-2.5,-2,-1.5,-1,-0.5,0,0.5,1,1.5,2,2.5,3,3.5,4,4.5,5,5.5,6], "labelExpr": "datum.value % 2 === 0 && datum.value > -5 ? datum.label : ''", "labelPadding": 10}}, "x2": {"field": "hi"},
    "y": {"field": "h", "type": "quantitative", "title": null, "scale": {"domain": [0, 0.0298], "nice": false}, "axis": {"labelOverlap": false, "offset": -7, "values": [0.001,0.002,0.003,0.004,0.005,0.006,0.007,0.008,0.009,0.01,0.011,0.012,0.013,0.014,0.015,0.016,0.017,0.018,0.019,0.02,0.021,0.022,0.023,0.024,0.025,0.026,0.027,0.028,0.029], "labelExpr": "round(datum.value*1000) % 5 === 0 ? datum.label : ''", "labelPadding": 8.5}}, "y2": {"datum": 0}}},
  {"data": {"name": "norm"}, "transform": [{"filter": "datum.p == 4"}], "mark": {"type": "line", "color": "#3a3a3a", "strokeWidth": 1.2, "interpolate": "monotone"},
   "encoding": {"x": {"field": "x", "type": "quantitative", "title": null, "axis": {"labelOverlap": false, "values": [-6,-5.5,-5,-4.5,-4,-3.5,-3,-2.5,-2,-1.5,-1,-0.5,0,0.5,1,1.5,2,2.5,3,3.5,4,4.5,5,5.5,6], "labelExpr": "datum.value % 2 === 0 && datum.value > -5 ? datum.label : ''", "labelPadding": 10}}, "y": {"field": "y", "type": "quantitative", "title": null, "axis": {"labelOverlap": false, "offset": -7, "values": [0.001,0.002,0.003,0.004,0.005,0.006,0.007,0.008,0.009,0.01,0.011,0.012,0.013,0.014,0.015,0.016,0.017,0.018,0.019,0.02,0.021,0.022,0.023,0.024,0.025,0.026,0.027,0.028,0.029], "labelExpr": "round(datum.value*1000) % 5 === 0 ? datum.label : ''", "labelPadding": 8.5}}}}
 ]},
 {"width": 325, "height": 200, "data": {"name": "walk"}, "transform": [{"filter": "datum.p == 4"}], "mark": {"type": "line", "color": "#111", "strokeWidth": 1.4},
  "encoding": {"x": {"field": "t", "type": "quantitative", "title": null, "scale": {"domain": [-73.5, 2582], "nice": false, "zero": false}, "axis": {"labelOverlap": false, "offset": -12.4, "values": [0,100,200,300,400,500,600,700,800,900,1000,1100,1200,1300,1400,1500,1600,1700,1800,1900,2000,2100,2200,2300,2400,2500], "labelExpr": "datum.value % 500 === 0 && datum.value > 0 ? datum.label : ''", "labelPadding": 5}},
   "y": {"field": "v", "type": "quantitative", "title": null, "scale": {"domain": [-0.161, 2.436], "nice": false, "zero": false}, "axis": {"labelOverlap": false, "offset": -9, "values": [0,0.1,0.2,0.3,0.4,0.5,0.6,0.7,0.8,0.9,1,1.1,1.2,1.3,1.4,1.5,1.6,1.7,1.8,1.9,2,2.1,2.2,2.3,2.4], "labelExpr": "abs(datum.value*2 - round(datum.value*2)) < 0.001 && datum.value > 0.01 ? datum.label : ''", "labelPadding": 13}}}}
]
}
